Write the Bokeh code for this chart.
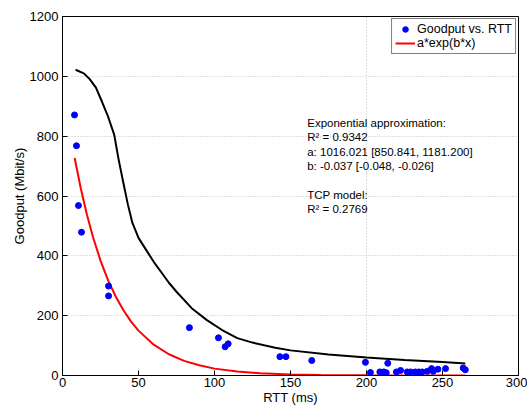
from bokeh.plotting import figure
from bokeh.models import Label, Legend, LegendItem, Range1d, FixedTicker
from bokeh.embed import file_html
from bokeh.resources import INLINE

# Measured data: Goodput vs. RTT
rtt = [7.9, 9.2, 10.5, 12.5, 30.3, 30.3, 83.5, 102.6, 107.0, 109.0, 143.0, 147.0, 164.0,
       199.3, 202.6, 208.8, 211.4, 213.0, 214.0, 219.7, 222.4, 226.8, 229.0, 232.0,
       234.4, 236.6, 240.0, 242.8, 243.9, 247.0, 252.0, 263.6, 265.0]
goodput = [871, 768, 568, 479, 299, 266, 160, 126, 96, 106, 63, 63, 50,
           44, 10, 12, 12, 9, 41, 12, 17, 12, 12, 12,
           12, 12, 14, 23, 14, 21, 23, 25, 19]

# Exponential fit curve
fit_x = [8, 12, 16, 20, 25, 30, 35, 40, 45, 50, 60, 70, 80, 90, 100, 115, 130, 150, 170, 200, 230, 265]
fit_y = [727, 626, 539, 464, 384, 318, 264, 219, 181, 150, 103, 71, 49, 34, 23, 13, 7.5, 3.5, 1.7, 0.5, 0.2, 0]

# TCP model curve
tcp_x = [8.6, 14, 18, 22, 26, 30, 34, 37, 40, 43, 46, 50, 55, 60, 65, 70, 75, 85, 95, 105,
         115, 125, 140, 150, 175, 200, 225, 250, 265]
tcp_y = [1022, 1010, 990, 962, 915, 865, 805, 720, 645, 572, 510, 460, 420, 380, 345, 310, 280,
         225, 185, 152, 125, 110, 93, 84, 70, 60, 52, 45, 40]

x_ticks = [0, 50, 100, 150, 200, 250, 300]
y_ticks = [0, 200, 400, 600, 800, 1000, 1200]

annotation_lines = [
    "Exponential approximation:",
    "R\u00b2 = 0.9342",
    "a: 1016.021 [850.841, 1181.200]",
    "b: -0.037 [-0.048, -0.026]",
    "",
    "TCP model:",
    "R\u00b2 = 0.2769",
]

FONT = "Liberation Sans"

p = figure(width=527, height=407, output_backend="svg", toolbar_location=None,
           x_range=Range1d(0, 300), y_range=Range1d(0, 1200),
           min_border_left=62, min_border_right=9, min_border_top=16, min_border_bottom=30,
           background_fill_color="white", border_fill_color="white")

p.outline_line_color = "black"
p.outline_line_width = 1
p.outline_line_alpha = 1

for ax, ticks in ((p.xaxis, x_ticks), (p.yaxis, y_ticks)):
    ax.ticker = FixedTicker(ticks=ticks)
    ax.major_tick_in = 5
    ax.major_tick_out = 0
    ax.minor_tick_line_color = None
    ax.axis_line_color = "black"
    ax.major_tick_line_color = "black"
    ax.major_label_text_font = FONT
    ax.major_label_text_font_size = "13px"
    ax.major_label_text_color = "black"
    ax.axis_label_text_font = FONT
    ax.axis_label_text_font_size = "13px"
    ax.axis_label_text_font_style = "normal"
    ax.axis_label_text_color = "black"

p.xaxis.axis_label = "RTT (ms)"
p.yaxis.axis_label = "Goodput (Mbit/s)"
p.xaxis.major_label_standoff = 2
p.xaxis.axis_label_standoff = 0
p.yaxis.major_label_standoff = 4
p.yaxis.axis_label_standoff = 0

for g in (p.xgrid, p.ygrid):
    g.ticker = p.xaxis.ticker if g is p.xgrid else p.yaxis.ticker
    g.grid_line_color = "#c0c0c0"
    g.grid_line_dash = "1 2"
    g.grid_line_width = 1

r_black = p.line(tcp_x, tcp_y, line_color="black", line_width=2)
r_red = p.line(fit_x, fit_y, line_color="#ff0000", line_width=2)
r_pts = p.scatter(rtt, goodput, marker="circle", size=6, fill_color="#0000ff", line_color="#0000ff")

legend = Legend(items=[LegendItem(label="Goodput vs. RTT", renderers=[r_pts]),
                       LegendItem(label="a*exp(b*x)", renderers=[r_red])],
                location="top_right")
legend.margin = 2
legend.padding = 3
legend.spacing = 0
legend.glyph_width = 20
legend.glyph_height = 14
legend.label_height = 14
legend.label_standoff = 2
legend.label_text_font = FONT
legend.label_text_font_size = "12.5px"
legend.label_text_color = "black"
legend.border_line_color = "black"
legend.border_line_width = 1
legend.background_fill_color = "white"
legend.background_fill_alpha = 1
p.add_layout(legend)

y0 = 844
step = 48
for i, line in enumerate(annotation_lines):
    if not line:
        continue
    p.add_layout(Label(x=161, y=y0 - i * step, text=line, text_font=FONT,
                       text_font_size="11.5px", text_color="black", text_baseline="middle"))

open("out.html", "w").write(file_html(p, INLINE))
